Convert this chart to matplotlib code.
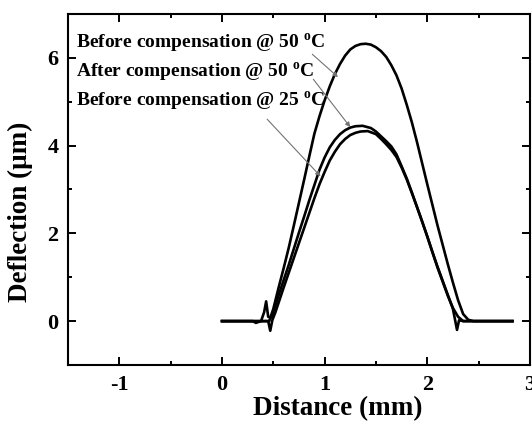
import matplotlib
matplotlib.use("Agg")
import matplotlib.pyplot as plt
from matplotlib.ticker import MultipleLocator

plt.rcParams['font.family'] = ['Liberation Serif', 'DejaVu Serif']
plt.rcParams['font.weight'] = 'bold'
plt.rcParams['mathtext.fontset'] = 'custom'
plt.rcParams['mathtext.bf'] = 'Liberation Serif:bold'
plt.rcParams['mathtext.rm'] = 'Liberation Serif:bold'
plt.rcParams['axes.unicode_minus'] = False

# deflection profiles (x in mm, y in um)
x_b50 = [0.00, 0.30, 0.40, 0.46, 0.50, 0.55, 0.60, 0.65, 0.70, 0.75, 0.80, 0.85, 0.90,
         0.95, 1.00, 1.05, 1.10, 1.15, 1.20, 1.25, 1.30, 1.35, 1.40, 1.45, 1.50, 1.55,
         1.60, 1.65, 1.70, 1.75, 1.80, 1.85, 1.90, 1.95, 2.00, 2.05, 2.10, 2.15, 2.20,
         2.25, 2.30, 2.35, 2.40, 2.45, 2.83]
y_b50 = [0.00, 0.00, 0.00, 0.00, 0.28, 0.75, 1.20, 1.67, 2.18, 2.70, 3.22, 3.75, 4.27,
         4.67, 5.03, 5.35, 5.63, 5.86, 6.05, 6.19, 6.27, 6.31, 6.32, 6.30, 6.24, 6.15,
         6.02, 5.83, 5.60, 5.30, 4.93, 4.53, 4.08, 3.60, 3.12, 2.65, 2.18, 1.74, 1.30,
         0.88, 0.48, 0.16, 0.03, 0.00, 0.00]

x_a50 = [0.00, 0.30, 0.33, 0.38, 0.41, 0.43, 0.45, 0.48, 0.52, 0.56, 0.60, 0.65, 0.70,
         0.75, 0.80, 0.85, 0.90, 0.95, 1.00, 1.05, 1.10, 1.15, 1.20, 1.25, 1.30, 1.37,
         1.45, 1.50, 1.55, 1.60, 1.65, 1.70, 1.75, 1.80, 1.85, 1.90, 1.95, 2.00, 2.05,
         2.10, 2.15, 2.20, 2.25, 2.30, 2.35, 2.83]
y_a50 = [0.00, 0.00, -0.04, 0.00, 0.20, 0.45, 0.10, 0.08, 0.35, 0.65, 0.93, 1.28, 1.65,
         2.02, 2.38, 2.75, 3.10, 3.45, 3.73, 3.96, 4.13, 4.26, 4.35, 4.41, 4.44, 4.45,
         4.40, 4.32, 4.21, 4.10, 3.98, 3.80, 3.53, 3.25, 2.93, 2.60, 2.27, 1.93, 1.57,
         1.22, 0.90, 0.58, 0.30, 0.10, 0.00, 0.00]

x_b25 = [0.00, 0.30, 0.40, 0.45, 0.47, 0.49, 0.52, 0.56, 0.60, 0.65, 0.70, 0.75, 0.80,
         0.85, 0.90, 0.95, 1.00, 1.05, 1.10, 1.15, 1.20, 1.25, 1.30, 1.35, 1.42, 1.50,
         1.55, 1.60, 1.65, 1.70, 1.75, 1.80, 1.85, 1.90, 1.95, 2.00, 2.05, 2.10, 2.15,
         2.20, 2.25, 2.29, 2.31, 2.35, 2.83]
y_b25 = [0.00, 0.00, 0.00, 0.00, -0.22, 0.02, 0.20, 0.48, 0.76, 1.10, 1.44, 1.78, 2.12,
         2.46, 2.80, 3.12, 3.40, 3.66, 3.86, 4.03, 4.15, 4.24, 4.29, 4.32, 4.33, 4.26,
         4.15, 4.03, 3.90, 3.74, 3.50, 3.23, 2.92, 2.60, 2.27, 1.93, 1.58, 1.24, 0.92,
         0.60, 0.28, -0.20, 0.02, 0.00, 0.00]

labels = [r'Before compensation @ 50 $^{\mathbf{o}}$C',
          r'After compensation @ 50 $^{\mathbf{o}}$C',
          r'Before compensation @ 25 $^{\mathbf{o}}$C']

fig = plt.figure(figsize=(5.32, 4.21), dpi=100)
ax = fig.add_axes([0.128, 0.133, 0.868, 0.834])

for xs, ys in [(x_b50, y_b50), (x_a50, y_a50), (x_b25, y_b25)]:
    ax.plot(xs, ys, color='black', lw=1.9)

# labels with thin pointer lines
ax.text(-1.42, 6.32, labels[0], fontsize=14, fontweight='bold', va='center')
ax.text(-1.42, 5.68, labels[1], fontsize=14, fontweight='bold', va='center')
ax.text(-1.42, 5.01, labels[2], fontsize=14, fontweight='bold', va='center')
arrow = dict(arrowstyle='-|>', color='0.45', lw=0.8, mutation_scale=7,
             shrinkA=0, shrinkB=0)
ax.annotate('', xy=(1.13, 5.56), xytext=(0.88, 6.08), arrowprops=arrow)
ax.annotate('', xy=(1.25, 4.42), xytext=(0.89, 5.51), arrowprops=arrow)
ax.annotate('', xy=(0.96, 3.30), xytext=(0.44, 4.60), arrowprops=arrow)

ax.set_xlim(-1.5, 3.0)
ax.set_ylim(-1, 7)
ax.xaxis.set_major_locator(MultipleLocator(1))
ax.xaxis.set_minor_locator(MultipleLocator(0.5))
ax.yaxis.set_major_locator(MultipleLocator(2))
ax.yaxis.set_minor_locator(MultipleLocator(1))
ax.tick_params(which='both', direction='in', top=True, right=True, width=1.4)
ax.tick_params(which='major', length=6, labelsize=16, pad=7)
ax.tick_params(which='minor', length=3)
for lab in ax.get_xticklabels() + ax.get_yticklabels():
    lab.set_fontweight('bold')
for sp in ax.spines.values():
    sp.set_linewidth(1.5)

ax.set_xlabel('Distance (mm)', fontsize=19.5, fontweight='bold')
ax.set_ylabel('Deflection (\u03bcm)', fontsize=19.5, fontweight='bold')
ax.xaxis.set_label_coords(0.585, -0.088)
ax.yaxis.set_label_coords(-0.075, 0.436)

fig.savefig('out.png', dpi=100)
